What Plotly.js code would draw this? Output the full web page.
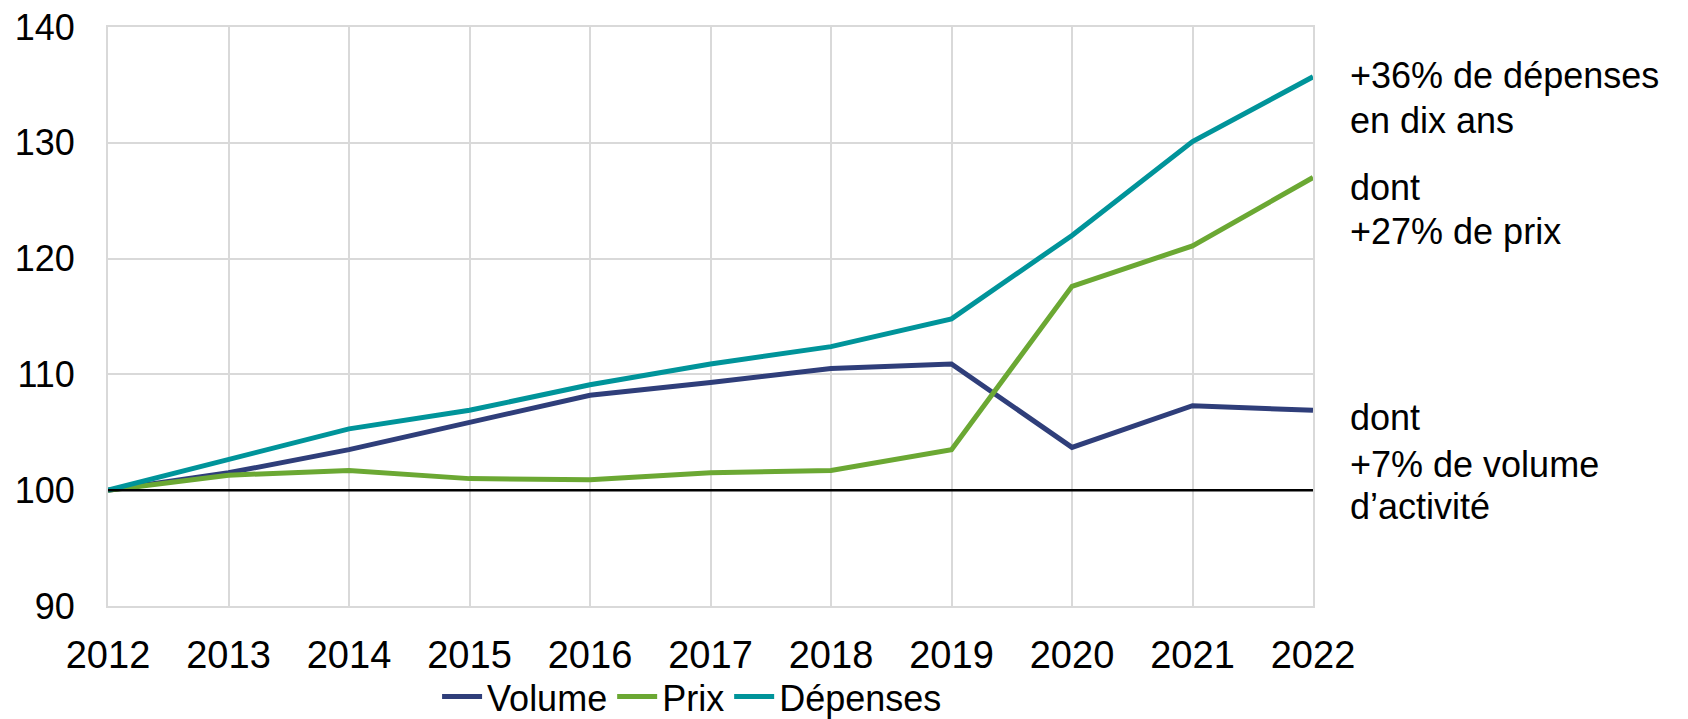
<!DOCTYPE html>
<html>
<head>
<meta charset="utf-8">
<script src="https://cdn.plot.ly/plotly-3.0.1.min.js"></script>
<style>html,body{margin:0;padding:0;background:#fff;}#chart{width:1688px;height:719px;}</style>
</head>
<body>
<div id="chart"></div>
<script>
const years = [2012, 2013, 2014, 2015, 2016, 2017, 2018, 2019, 2020, 2021, 2022];
const volume = [100, 101.5, 103.5, 105.8, 108.2, 109.3, 110.5, 110.9, 103.7, 107.3, 106.9];
const prix = [100, 101.3, 101.7, 101.0, 100.9, 101.5, 101.7, 103.5, 117.6, 121.1, 127.0];
const depenses = [100, 102.6, 105.3, 106.9, 109.1, 110.9, 112.4, 114.8, 122.0, 130.1, 135.7];
const seriesNames = ['Volume', 'Prix', 'Dépenses'];
const yTicks = [90, 100, 110, 120, 130, 140];

const FONT = 'Liberation Sans, Arial, sans-serif';
const colors = ['#2F3E7A', '#6BA833', '#00949A'];
const data = [volume, prix, depenses].map((v, i) => ({
  x: years, y: v, type: 'scatter', mode: 'lines', name: seriesNames[i],
  line: {color: colors[i], width: 5}
}));

const notes = [
  ['+36% de dépenses', 0.917],
  ['en dix ans', 0.839],
  ['dont', 0.723],
  ['+27% de prix', 0.646],
  ['dont', 0.325],
  ['+7% de volume', 0.245],
  ['d’activité', 0.171]
];

const layout = {
  width: 1688, height: 719,
  margin: {l: 108, r: 375, t: 27, b: 113},
  paper_bgcolor: '#fff', plot_bgcolor: '#fff',
  font: {family: FONT, size: 36, color: '#000'},
  showlegend: true,
  legend: {orientation: 'h', xref: 'container', x: 0.41, xanchor: 'center',
           yref: 'container', y: 0.031, yanchor: 'middle', bgcolor: 'rgba(0,0,0,0)',
           font: {family: FONT, size: 36, color: '#000'}, itemwidth: 40, tracegroupgap: 0},
  xaxis: {
    range: [2012, 2022], tickvals: years, ticktext: years.map(String),
    showgrid: true, gridcolor: '#D9D9D9', gridwidth: 2,
    showline: true, linecolor: '#D9D9D9', linewidth: 2, mirror: true,
    zeroline: false, ticks: '', ticklabelstandoff: 14, automargin: false,
    tickfont: {family: FONT, size: 38, color: '#000'}
  },
  yaxis: {
    range: [90, 140], tickvals: yTicks, ticktext: yTicks.map(String),
    showgrid: true, gridcolor: '#D9D9D9', gridwidth: 2,
    showline: true, linecolor: '#D9D9D9', linewidth: 2, mirror: true,
    zeroline: false, ticks: '', ticklabelstandoff: 24, automargin: false,
    tickfont: {family: FONT, size: 36, color: '#000'}
  },
  shapes: [{type: 'line', xref: 'paper', x0: 0, x1: 1, yref: 'y', y0: 100, y1: 100,
            line: {color: '#000', width: 2.5}, layer: 'above'}],
  annotations: notes.map(n => ({
    text: n[0], xref: 'paper', yref: 'paper', x: 1.029, y: n[1],
    xanchor: 'left', yanchor: 'middle', showarrow: false,
    font: {family: FONT, size: 36, color: '#000'}
  }))
};

Plotly.newPlot('chart', data, layout, {displayModeBar: false, staticPlot: true});
</script>
</body>
</html>
